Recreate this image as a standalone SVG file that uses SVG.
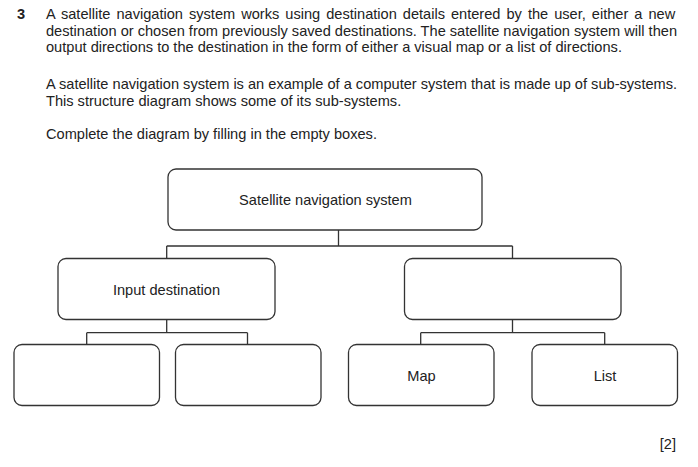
<svg xmlns="http://www.w3.org/2000/svg" width="698" height="467" viewBox="0 0 698 467">
<style>
  text { font-family: "Liberation Sans", Arial, sans-serif; font-size: 14.6px; fill: #222; }
  .num { font-weight: bold; }
  .lbl { text-anchor: middle; }
  .box { fill: #fff; stroke: #333; stroke-width: 1.3; }
  .conn { fill: none; stroke: #333; stroke-width: 1.3; }
</style>
<rect width="698" height="467" fill="#fff"/>
<g id="question">
  <text class="num" x="17" y="19">3</text>
  <text x="46" y="19" word-spacing="1.95">A satellite navigation system works using destination details entered by the user, either a new</text>
  <text x="46" y="35.5" textLength="631" lengthAdjust="spacing">destination or chosen from previously saved destinations. The satellite navigation system will then</text>
  <text x="46" y="52">output directions to the destination in the form of either a visual map or a list of directions.</text>
  <text x="46" y="89">A satellite navigation system is an example of a computer system that is made up of sub-systems.</text>
  <text x="46" y="105.5">This structure diagram shows some of its sub-systems.</text>
  <text x="46" y="139">Complete the diagram by filling in the empty boxes.</text>
  <text x="676" y="449" text-anchor="end">[2]</text>
</g>
<g id="connectors">
  <path class="conn" d="M338.5 230 V246 M166.7 246 H512.5 M166.7 246 V258.5 M512.5 246 V258.5"/>
  <path class="conn" d="M166.7 319.5 V332.7 M86.7 332.7 H247.5 M86.7 332.7 V344.5 M247.5 332.7 V344.5"/>
  <path class="conn" d="M512.5 319.5 V332.7 M420.7 332.7 H604.7 M420.7 332.7 V344.5 M604.7 332.7 V344.5"/>
</g>
<g id="node-satnav">
  <rect class="box" x="168" y="169" width="314" height="61" rx="8"/>
  <text class="lbl" x="325.5" y="205">Satellite navigation system</text>
</g>
<g id="node-input">
  <rect class="box" x="58" y="258.5" width="217" height="61" rx="8"/>
  <text class="lbl" x="166.5" y="294.5">Input destination</text>
</g>
<g id="node-output">
  <rect class="box" x="404.5" y="258.5" width="216.5" height="61" rx="8"/>
</g>
<g id="node-input-a">
  <rect class="box" x="14" y="344.5" width="145.5" height="61" rx="8"/>
</g>
<g id="node-input-b">
  <rect class="box" x="175.5" y="344.5" width="145.5" height="61" rx="8"/>
</g>
<g id="node-map">
  <rect class="box" x="348.5" y="344.5" width="145.5" height="61" rx="8"/>
  <text class="lbl" x="421.5" y="380.5">Map</text>
</g>
<g id="node-list">
  <rect class="box" x="532" y="344.5" width="145.5" height="61" rx="8"/>
  <text class="lbl" x="605" y="380.5">List</text>
</g>
</svg>
